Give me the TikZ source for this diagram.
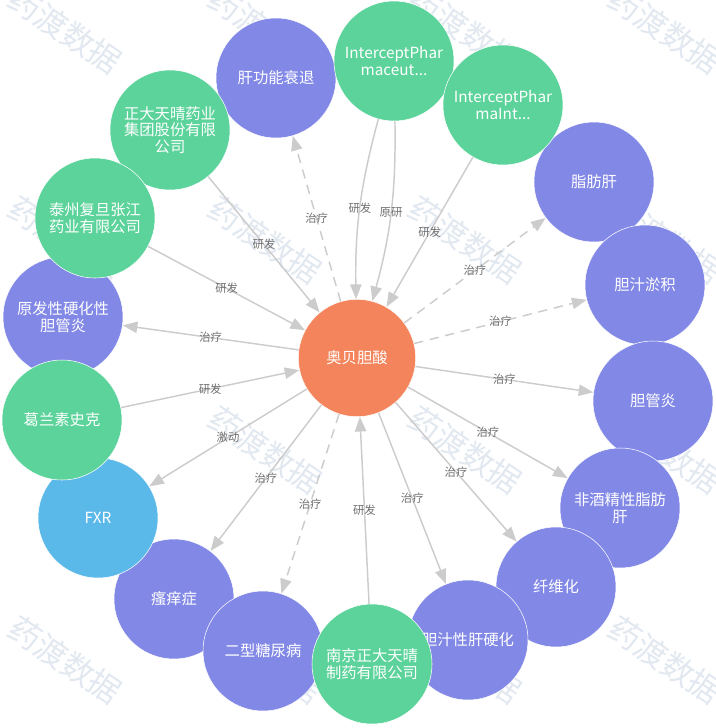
\documentclass[tikz,border=0pt]{standalone}
\usepackage{fontspec}
\setmainfont{Noto Sans CJK SC}
\usetikzlibrary{arrows.meta}
\definecolor{DrugOrange}{HTML}{F4845B}
\definecolor{DisPurple}{HTML}{8288E6}
\definecolor{OrgGreen}{HTML}{5BD39A}
\definecolor{TargetBlue}{HTML}{5BB9EA}
\definecolor{EdgeGray}{HTML}{CCCCCC}
\definecolor{LabelGray}{HTML}{6E6E6E}
\definecolor{WaterGray}{HTML}{E2E8F0}

\tikzset{
  ball/.style={circle,minimum size=90pt,inner sep=0pt,draw=white,line width=0.4pt,
    text=white,align=center,font=\fontsize{11.5}{12.5}\selectfont},
  disease/.style={ball,fill=DisPurple},
  company/.style={ball,fill=OrgGreen},
  link/.style={draw=EdgeGray,line width=1.1pt,-{Triangle[length=11pt,width=8.5pt]}},
  maybe/.style={link,dash pattern=on 7pt off 5pt},
  rel/.style={midway,inner sep=1pt,text=LabelGray,font=\fontsize{8.5}{9}\selectfont},
  wmark/.style={rotate=-34,text=WaterGray,font=\fontsize{24}{24}\selectfont}
}

\begin{document}
\begin{tikzpicture}[x=0.75pt,y=-0.75pt]
  \useasboundingbox (0,0) rectangle (716,728);

  % watermark
  \foreach \x in {65,265,465,665}
    \foreach \y in {30,240,450,660}
      \node[wmark] at (\x,\y) {药渡数据};

  % diseases and target
  \node[disease] (liverfail)   at (276,78)  {肝功能衰退};
  \node[disease] (fattyliver)  at (594,182) {脂肪肝};
  \node[disease] (cholestasis) at (645,285) {胆汁淤积};
  \node[disease] (cholangitis) at (653,401) {胆管炎};
  \node[disease] (nash)        at (620,508) {非酒精性脂肪\\肝};
  \node[disease] (fibrosis)    at (556,587) {纤维化};
  \node[disease] (pbc)         at (468,640) {胆汁性肝硬化};
  \node[disease] (pruritus)    at (174,599) {瘙痒症};
  \node[disease] (diabetes)    at (263,651) {二型糖尿病};
  \node[ball,fill=TargetBlue] (fxr) at (98,518) {FXR};
  \node[disease] (psc)         at (63,317)  {原发性硬化性\\胆管炎};

  % companies
  \node[company] (chiatai) at (170,130) {正大天晴药业\\集团股份有限\\公司};
  \node[company] (taizhou) at (95,218)  {泰州复旦张江\\药业有限公司};
  \node[company] (gsk)     at (62,420)  {葛兰素史克};
  \node[company] (nanjing) at (372,664) {南京正大天晴\\制药有限公司};
  \node[company] (ipc)     at (394,61)  {InterceptPhar\\maceut...};
  \node[company] (ipi)     at (503,105) {InterceptPhar\\maInt...};

  % drug
  \node[ball,fill=DrugOrange,minimum size=88pt] (drug) at (357,358) {奥贝胆酸};

  % relations
  \draw[link]  (chiatai) -- (drug) node[rel] {研发};
  \draw[link]  (taizhou) -- (drug) node[rel] {研发};
  \draw[link]  (drug) -- (psc) node[rel] {治疗};
  \draw[link]  (gsk) -- (drug) node[rel] {研发};
  \draw[link]  (drug) -- (fxr) node[rel] {激动};
  \draw[link]  (drug) -- (pruritus) node[rel] {治疗};
  \draw[maybe] (drug) -- (diabetes) node[rel] {治疗};
  \draw[link]  (nanjing) -- (drug) node[rel] {研发};
  \draw[link]  (drug) -- (pbc) node[rel] {治疗};
  \draw[link]  (drug) -- (fibrosis) node[rel] {治疗};
  \draw[link]  (drug) -- (nash) node[rel] {治疗};
  \draw[link]  (drug) -- (cholangitis) node[rel] {治疗};
  \draw[maybe] (drug) -- (cholestasis) node[rel] {治疗};
  \draw[maybe] (drug) -- (fattyliver) node[rel] {治疗};
  \draw[link]  (ipi) -- (drug) node[rel] {研发};
  \draw[link]  (ipc) to[bend right=8] node[rel] {研发} (drug);
  \draw[link]  (ipc) to[bend left=8] node[rel] {原研} (drug);
  \draw[maybe] (drug) -- (liverfail) node[rel] {治疗};
\end{tikzpicture}
\end{document}
